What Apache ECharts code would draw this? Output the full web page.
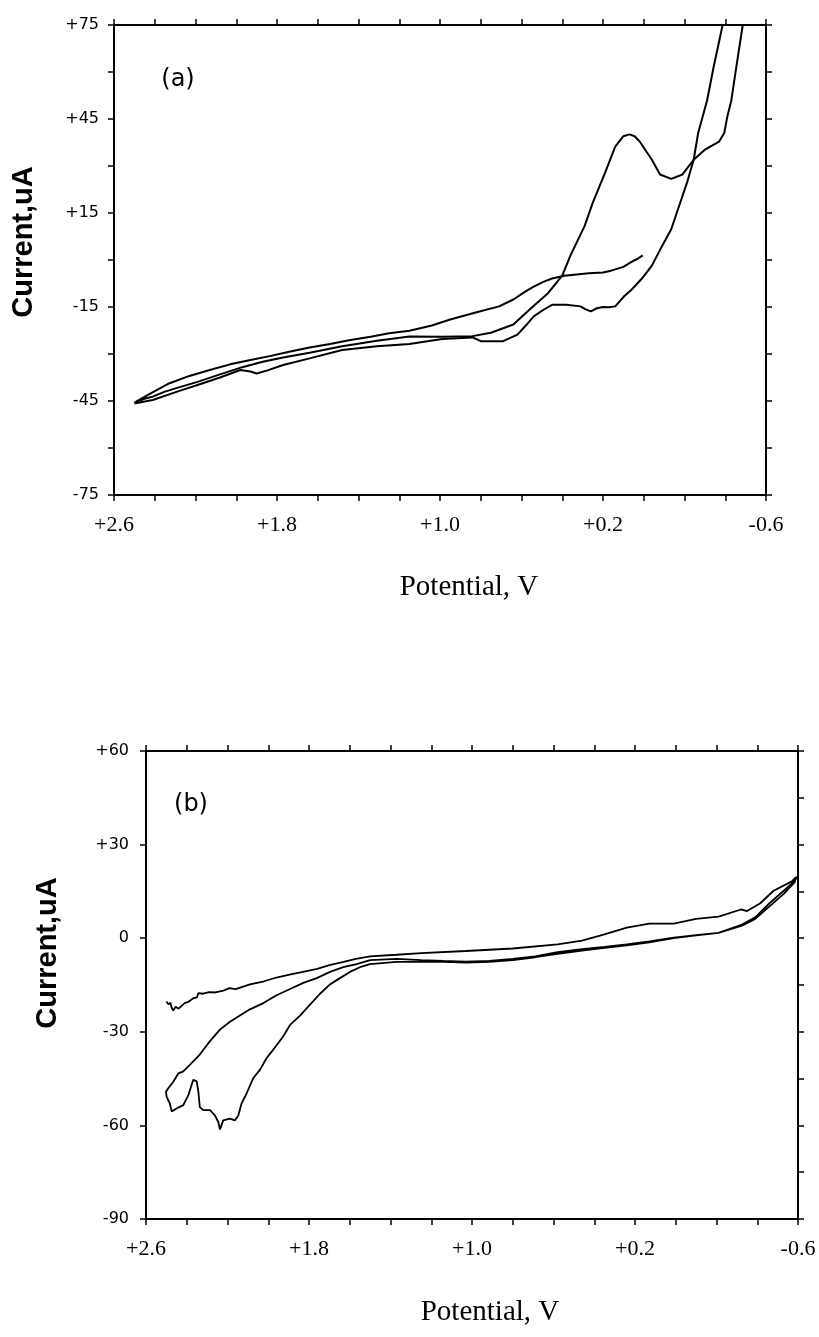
<!DOCTYPE html>
<html><head><meta charset="utf-8">
<script src="https://cdn.jsdelivr.net/npm/echarts@6/dist/echarts.min.js"></script>
<style>html,body{margin:0;padding:0;background:#fff}#c{width:819px;height:1337px}</style>
</head><body><div id="c"></div>
<script>
// Tick labels
const xTickValues = [2.6, 1.8, 1.0, 0.2, -0.6];
const xTickLabels = ['+2.6', '+1.8', '+1.0', '+0.2', '-0.6'];
const yTickValuesA = [75, 45, 15, -15, -45, -75];
const yTickLabelsA = ['+75', '+45', '+15', '-15', '-45', '-75'];
const yTickValuesB = [60, 30, 0, -30, -60, -90];
const yTickLabelsB = ['+60', '+30', '0', '-30', '-60', '-90'];

// Panel (a): [potential V, current uA], in sweep order
const aSweep1 = [[0.005,1.5],[0.03,0.4],[0.06,-0.6],[0.10,-2.2],[0.16,-3.4],[0.20,-4.0],[0.27,-4.2],[0.33,-4.6],[0.39,-5.0],[0.45,-5.9],[0.49,-6.9],[0.54,-8.5],[0.58,-10.0],[0.64,-12.6],[0.71,-14.8],[0.82,-16.7],[0.95,-19.0],[1.04,-20.9],[1.15,-22.6],[1.25,-23.4],[1.34,-24.5],[1.44,-25.5],[1.54,-26.8],[1.64,-27.9],[1.74,-29.3],[1.83,-30.6],[1.93,-31.9],[2.03,-33.3],[2.13,-35.1],[2.23,-37.0],[2.33,-39.4],[2.42,-42.6],[2.50,-45.5]];
const aSweep2 = [[2.50,-45.5],[2.45,-44.3],[2.41,-43.6],[2.35,-42.0],[2.29,-40.8],[2.19,-38.9],[2.08,-36.5],[1.97,-34.2],[1.87,-32.5],[1.77,-31.1],[1.64,-29.6],[1.48,-27.5],[1.31,-25.8],[1.15,-24.4],[0.99,-24.5],[0.84,-24.3],[0.75,-23.2],[0.64,-20.6],[0.56,-15.8],[0.47,-10.6],[0.40,-5.0],[0.36,1.4],[0.29,10.9],[0.25,18.3],[0.19,27.8],[0.14,36.2],[0.10,39.5],[0.07,40.1],[0.045,39.5],[0.02,37.8],[-0.04,32.0],[-0.08,27.3],[-0.135,25.9],[-0.19,27.3],[-0.245,32.0],[-0.30,35.2],[-0.37,37.8],[-0.395,40.5],[-0.41,45.7],[-0.43,51],[-0.46,64],[-0.486,75],[-0.50,82]];
const aSweep3 = [[-0.40,82],[-0.387,75],[-0.343,61.6],[-0.311,51],[-0.289,45.7],[-0.267,40.5],[-0.245,32],[-0.212,24.6],[-0.168,16.2],[-0.135,9.8],[-0.09,4.5],[-0.04,-1.8],[0.01,-6.0],[0.06,-9.5],[0.095,-11.5],[0.14,-14.8],[0.17,-15.1],[0.20,-15.0],[0.23,-15.4],[0.26,-16.4],[0.29,-15.6],[0.31,-14.8],[0.38,-14.3],[0.45,-14.3],[0.49,-15.8],[0.54,-18.0],[0.58,-21.0],[0.62,-23.8],[0.69,-25.9],[0.80,-25.9],[0.84,-24.7],[0.99,-25.2],[1.15,-26.8],[1.31,-27.5],[1.48,-28.7],[1.64,-31.4],[1.77,-33.5],[1.85,-35.3],[1.90,-36.2],[1.93,-35.6],[1.98,-35.1],[2.08,-37.5],[2.19,-39.9],[2.29,-42.0],[2.41,-44.7],[2.50,-45.8]];

// Panel (b)
const bSweep1 = [[2.50,-20.3],[2.49,-21.2],[2.48,-20.7],[2.474,-22.3],[2.466,-23.2],[2.455,-22.0],[2.44,-22.6],[2.41,-20.8],[2.39,-20.3],[2.37,-19.3],[2.35,-19.0],[2.343,-17.6],[2.32,-17.8],[2.29,-17.3],[2.26,-17.4],[2.22,-16.8],[2.19,-16.0],[2.16,-16.3],[2.09,-14.8],[2.02,-13.8],[1.96,-12.6],[1.89,-11.6],[1.83,-10.8],[1.76,-9.8],[1.70,-8.6],[1.63,-7.6],[1.57,-6.6],[1.50,-5.8],[1.37,-5.3],[1.25,-4.8],[1.03,-4.1],[0.80,-3.3],[0.58,-2.0],[0.46,-0.8],[0.35,1.2],[0.24,3.4],[0.13,4.7],[0.01,4.7],[-0.10,6.2],[-0.21,6.9],[-0.32,9.2],[-0.35,8.7],[-0.415,11.2],[-0.48,15.2],[-0.57,18.2],[-0.59,19.6]];
const bSweep2 = [[-0.59,19.6],[-0.584,18.0],[-0.53,14.2],[-0.46,10.2],[-0.39,6.2],[-0.325,4.0],[-0.21,1.7],[-0.10,1.0],[0.01,0.2],[0.13,-1.0],[0.24,-2.0],[0.35,-2.8],[0.46,-3.5],[0.58,-4.5],[0.69,-5.8],[0.80,-6.6],[0.915,-7.3],[1.03,-7.5],[1.14,-7.3],[1.25,-7.0],[1.37,-6.6],[1.50,-7.0],[1.566,-8.3],[1.632,-9.3],[1.697,-10.8],[1.762,-12.8],[1.828,-14.3],[1.893,-16.3],[1.959,-18.3],[2.024,-20.8],[2.090,-22.8],[2.139,-24.8],[2.188,-26.8],[2.237,-29.3],[2.286,-33.0],[2.336,-37.3],[2.385,-40.6],[2.417,-42.7],[2.441,-43.3],[2.466,-46.0],[2.491,-48.1],[2.502,-49.2],[2.499,-50.8],[2.483,-53.0],[2.474,-55.5],[2.450,-54.6],[2.417,-53.5],[2.392,-50.3],[2.376,-47.0],[2.368,-45.4],[2.351,-45.9],[2.343,-49.2],[2.336,-54.1],[2.319,-55.1],[2.286,-55.1],[2.262,-56.8],[2.245,-58.9],[2.237,-61.3],[2.221,-58.4],[2.188,-57.8],[2.164,-58.4],[2.147,-56.8],[2.131,-53.0],[2.106,-49.7],[2.074,-44.9],[2.041,-42.2],[2.008,-38.4],[1.975,-35.7],[1.926,-31.4],[1.893,-27.8],[1.844,-24.8],[1.795,-21.3],[1.746,-17.8],[1.697,-14.8],[1.648,-12.8],[1.599,-10.8],[1.550,-9.3],[1.501,-8.3]];
const bSweep3 = [[1.501,-8.3],[1.37,-7.6],[1.25,-7.5],[1.14,-7.6],[1.03,-7.8],[0.915,-7.6],[0.80,-7.0],[0.69,-6.1],[0.58,-5.0],[0.46,-4.0],[0.35,-3.1],[0.24,-2.3],[0.13,-1.3],[0.01,0],[-0.10,0.9],[-0.21,1.7],[-0.325,4.4],[-0.39,6.7],[-0.46,11.2],[-0.53,15.2],[-0.584,18.4],[-0.60,20.0]];

function lookup(values, labels) {
  return function (v) {
    const i = values.findIndex(t => Math.abs(t - v) < 1e-6);
    return i >= 0 ? labels[i] : '';
  };
}
const axisLine = { show: true, onZero: false, lineStyle: { color: '#000', width: 2 } };
function xAxis(grid, pos, labels) {
  return {
    type: 'value', gridIndex: grid, position: pos, inverse: true,
    min: -0.6, max: 2.6, interval: 0.2,
    axisLine: axisLine,
    axisTick: { show: true, inside: false, length: 6, lineStyle: { color: '#000', width: 1.5 } },
    axisLabel: { show: labels, showMinLabel: true, showMaxLabel: true,
      formatter: lookup(xTickValues, xTickLabels),
      fontFamily: 'Liberation Serif', fontSize: 22, color: '#000', margin: 19 },
    splitLine: { show: false }
  };
}
function yAxis(grid, pos, min, max, interval, labels, values, texts, margin) {
  return {
    type: 'value', gridIndex: grid, position: pos, min: min, max: max, interval: interval,
    axisLine: axisLine,
    axisTick: { show: true, inside: false, length: 6, lineStyle: { color: '#000', width: 1.5 } },
    axisLabel: { show: labels, showMinLabel: true, showMaxLabel: true,
      formatter: labels ? lookup(values, texts) : '',
      fontFamily: 'DejaVu Sans', fontSize: 16, color: '#000', margin: margin },
    splitLine: { show: false }
  };
}
function line(xi, yi, data, w) {
  return { type: 'line', xAxisIndex: xi, yAxisIndex: yi, data: data, showSymbol: false, symbol: 'none',
    clip: true, lineStyle: { color: '#000', width: w }, animation: false };
}

const chart = echarts.init(document.getElementById('c'), null, { renderer: 'canvas' });
chart.setOption({
  backgroundColor: '#fff',
  animation: false,
  grid: [
    { left: 114, top: 25, width: 652, height: 470 },
    { left: 146, top: 751, width: 652, height: 468 }
  ],
  xAxis: [ xAxis(0, 'bottom', true), xAxis(0, 'top', false), xAxis(1, 'bottom', true), xAxis(1, 'top', false) ],
  yAxis: [
    yAxis(0, 'left', -75, 75, 15, true, yTickValuesA, yTickLabelsA, 15),
    yAxis(0, 'right', -75, 75, 15, false),
    yAxis(1, 'left', -90, 60, 30, true, yTickValuesB, yTickLabelsB, 17),
    yAxis(1, 'right', -90, 60, 15, false)
  ],
  series: [
    line(0, 0, aSweep1.concat(aSweep2.slice(1)), 2),
    line(0, 0, aSweep3, 2),
    line(2, 2, bSweep1.concat(bSweep2.slice(1), bSweep3.slice(1)), 1.8)
  ],
  graphic: [
    { type: 'text', x: 178, y: 80, style: { text: '(a)', font: '24px "DejaVu Sans"', fill: '#000', align: 'center', verticalAlign: 'middle' } },
    { type: 'text', x: 191, y: 805, style: { text: '(b)', font: '24px "DejaVu Sans"', fill: '#000', align: 'center', verticalAlign: 'middle' } },
    { type: 'text', x: 24, y: 242, rotation: Math.PI / 2, style: { text: 'Current,uA', font: 'bold 29px "Liberation Sans"', fill: '#000', align: 'center', verticalAlign: 'middle' } },
    { type: 'text', x: 48, y: 953, rotation: Math.PI / 2, style: { text: 'Current,uA', font: 'bold 29px "Liberation Sans"', fill: '#000', align: 'center', verticalAlign: 'middle' } },
    { type: 'text', x: 469, y: 587, style: { text: 'Potential, V', font: '29px "Liberation Serif"', fill: '#000', align: 'center', verticalAlign: 'middle' } },
    { type: 'text', x: 490, y: 1312, style: { text: 'Potential, V', font: '29px "Liberation Serif"', fill: '#000', align: 'center', verticalAlign: 'middle' } }
  ]
});
</script></body></html>
